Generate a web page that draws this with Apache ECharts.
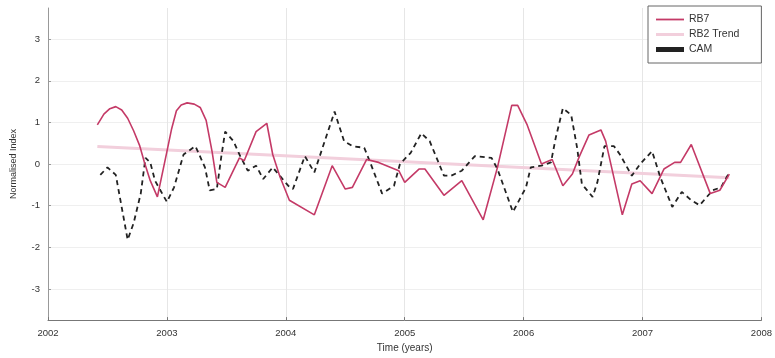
<!DOCTYPE html>
<html>
<head>
<meta charset="utf-8">
<script src="https://cdn.jsdelivr.net/npm/echarts@6/dist/echarts.min.js"></script>
<style>
  html, body { margin: 0; padding: 0; background: #ffffff; }
  #chart { width: 775px; height: 358px; }
</style>
</head>
<body>
<div id="chart"></div>
<script>
// Time axis ticks (years) and index ticks
const yearTicks = [2002, 2003, 2004, 2005, 2006, 2007, 2008];
const indexTicks = [-3, -2, -1, 0, 1, 2, 3];

// RB7 index: decimal year and normalised value
const rb7Time = [2002.415, 2002.47, 2002.52, 2002.57, 2002.62, 2002.67, 2002.72, 2002.77, 2002.81, 2002.86, 2002.92,
  2003.0, 2003.04, 2003.08, 2003.12, 2003.17, 2003.23, 2003.28, 2003.33, 2003.38, 2003.42, 2003.49,
  2003.61, 2003.65, 2003.75, 2003.84, 2003.89, 2003.95, 2004.03,
  2004.24, 2004.39, 2004.50, 2004.56, 2004.68, 2004.78, 2004.95, 2005.0, 2005.12, 2005.17,
  2005.33, 2005.48, 2005.66, 2005.78, 2005.90, 2005.95, 2006.03, 2006.15, 2006.24, 2006.33, 2006.41,
  2006.47, 2006.55, 2006.65, 2006.69, 2006.83, 2006.91, 2006.98, 2007.08, 2007.18, 2007.27, 2007.32,
  2007.41, 2007.57, 2007.65, 2007.73];
const rb7Value = [0.94, 1.2, 1.33, 1.38, 1.3, 1.1, 0.8, 0.45, 0.05, -0.4, -0.79,
  0.3, 0.85, 1.28, 1.42, 1.47, 1.44, 1.36, 1.05, 0.3, -0.44, -0.56,
  0.15, 0.08, 0.78, 0.98, 0.23, -0.3, -0.87,
  -1.22, -0.04, -0.6, -0.56, 0.11, 0.04, -0.16, -0.44, -0.12, -0.12,
  -0.75, -0.4, -1.34, -0.08, 1.41, 1.41, 0.94, 0.0, 0.11, -0.52, -0.24,
  0.19, 0.7, 0.82, 0.55, -1.22, -0.48, -0.4, -0.71, -0.12, 0.04, 0.04,
  0.47, -0.71, -0.63, -0.24];

// Linear trend of the RB index
const trendTime = [2002.415, 2007.73];
const trendValue = [0.42, -0.33];

// CAM index: decimal year and normalised value
const camTime = [2002.44, 2002.50, 2002.57, 2002.67, 2002.72, 2002.78, 2002.82, 2002.86, 2002.90, 2003.0,
  2003.06, 2003.14, 2003.24, 2003.32, 2003.36, 2003.42, 2003.46, 2003.49, 2003.56, 2003.61,
  2003.68, 2003.75, 2003.81, 2003.89, 2004.02, 2004.06, 2004.16, 2004.24, 2004.41, 2004.49,
  2004.56, 2004.66, 2004.70, 2004.81, 2004.91, 2004.96, 2005.05, 2005.14, 2005.21, 2005.33,
  2005.39, 2005.48, 2005.59, 2005.73, 2005.78, 2005.91, 2006.02, 2006.06, 2006.15, 2006.23,
  2006.27, 2006.33, 2006.40, 2006.45, 2006.49, 2006.58, 2006.62, 2006.68, 2006.76, 2006.81,
  2006.91, 2006.98, 2007.08, 2007.15, 2007.25, 2007.33, 2007.41, 2007.48, 2007.59, 2007.66, 2007.73];
const camValue = [-0.26, -0.08, -0.26, -1.82, -1.42, -0.71, 0.15, 0.04, -0.4, -0.91,
  -0.56, 0.23, 0.43, -0.08, -0.63, -0.6, 0.23, 0.78, 0.55, 0.23,
  -0.16, -0.04, -0.36, -0.08, -0.52, -0.6, 0.19, -0.2, 1.26, 0.55,
  0.43, 0.39, 0.11, -0.71, -0.52, 0.0, 0.27, 0.74, 0.55, -0.28,
  -0.28, -0.16, 0.19, 0.15, -0.12, -1.15, -0.56, -0.08, -0.04, 0.04,
  0.63, 1.34, 1.18, 0.39, -0.48, -0.79, -0.44, 0.43, 0.43, 0.23,
  -0.28, 0.0, 0.31, -0.32, -1.03, -0.67, -0.87, -0.99, -0.63, -0.56, -0.2];

const pairs = (t, v) => t.map((x, i) => [x, v[i]]);

const labelFont = { fontFamily: 'Liberation Sans', fontSize: 9.5, color: '#333' };

const chart = echarts.init(document.getElementById('chart'), null, { renderer: 'canvas' });
chart.setOption({
  animation: false,
  backgroundColor: '#ffffff',
  grid: { left: 48, right: 12, top: 8, bottom: 33, show: false },
  legend: {
    orient: 'vertical',
    left: 648,
    top: 6,
    padding: [8, 22, 8, 8],
    itemGap: 4,
    itemWidth: 28,
    itemHeight: 9,
    borderColor: '#666',
    borderWidth: 1,
    backgroundColor: '#ffffff',
    textStyle: { fontFamily: 'Liberation Sans', fontSize: 10.5, color: '#333' },
    data: [
      { name: 'RB7', icon: 'path://M0,3.6 L28,3.6 L28,5.4 L0,5.4 Z' },
      { name: 'RB2 Trend', icon: 'path://M0,3 L28,3 L28,6 L0,6 Z' },
      { name: 'CAM', icon: 'path://M0,3.8 L9,3.8 L9,5.4 L0,5.4 Z' }
    ]
  },
  xAxis: {
    type: 'value',
    min: yearTicks[0],
    max: yearTicks[yearTicks.length - 1],
    interval: 1,
    name: 'Time (years)',
    nameLocation: 'middle',
    nameGap: 22,
    nameTextStyle: { fontFamily: 'Liberation Sans', fontSize: 10, color: '#333' },
    axisLine: { show: true, onZero: false, lineStyle: { color: '#777', width: 1 } },
    axisTick: { show: true, inside: true, length: 3, lineStyle: { color: '#777' } },
    axisLabel: Object.assign({ margin: 8, formatter: v => String(v), showMaxLabel: true }, labelFont),
    splitLine: { show: true, lineStyle: { color: '#e6e6e6', width: 1 } }
  },
  yAxis: {
    type: 'value',
    min: -3.75,
    max: 3.75,
    name: 'Normalised Index',
    nameLocation: 'middle',
    nameGap: 30,
    nameTextStyle: { fontFamily: 'Liberation Sans', fontSize: 9, color: '#333' },
    axisLine: { show: true, lineStyle: { color: '#999', width: 1 } },
    axisTick: { show: true, inside: true, length: 3, customValues: indexTicks, lineStyle: { color: '#999' } },
    axisLabel: Object.assign({
      margin: 8,
      customValues: indexTicks,
      formatter: v => String(v)
    }, labelFont),
    splitLine: { show: true, lineStyle: { color: '#efefef', width: 1 } }
  },
  series: [
    {
      name: 'RB7',
      type: 'line',
      data: pairs(rb7Time, rb7Value),
      symbol: 'none',
      z: 3,
      lineStyle: { color: '#c43a67', width: 1.6 },
      itemStyle: { color: '#c43a67' }
    },
    {
      name: 'RB2 Trend',
      type: 'line',
      data: pairs(trendTime, trendValue),
      symbol: 'none',
      z: 1,
      lineStyle: { color: '#f2cfdc', width: 3 },
      itemStyle: { color: '#f2cfdc' }
    },
    {
      name: 'CAM',
      type: 'line',
      data: pairs(camTime, camValue),
      symbol: 'none',
      z: 2,
      lineStyle: { color: '#222', width: 1.8, type: [5, 4] },
      itemStyle: { color: '#222' }
    }
  ]
});
</script>
</body>
</html>
